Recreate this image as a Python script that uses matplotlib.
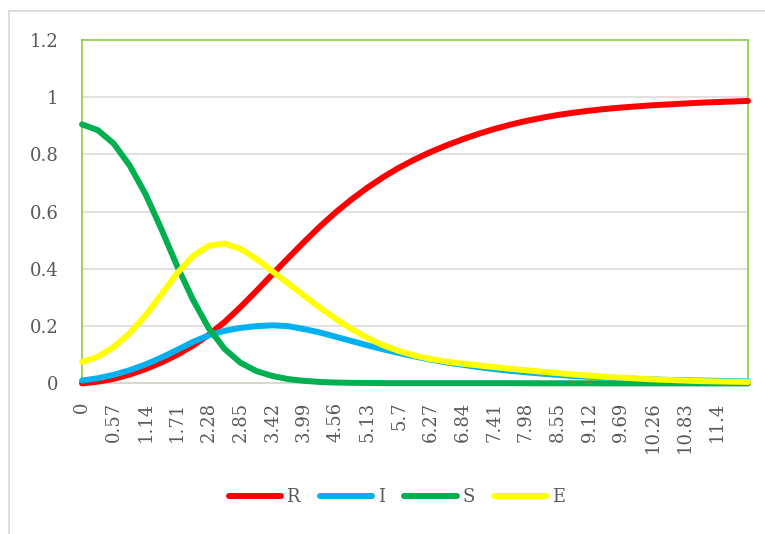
#!/usr/bin/env python3

import matplotlib
matplotlib.use("Agg")
import matplotlib.pyplot as plt
from matplotlib.lines import Line2D

# time steps (every 5th row of the sheet)
t = [0, 0.285, 0.57, 0.855, 1.14, 1.425, 1.71, 1.995, 2.28, 2.565,
     2.85, 3.135, 3.42, 3.705, 3.99, 4.275, 4.56, 4.845, 5.13, 5.415,
     5.7, 5.985, 6.27, 6.555, 6.84, 7.125, 7.41, 7.695, 7.98, 8.265,
     8.55, 8.835, 9.12, 9.405, 9.69, 9.975, 10.26, 10.545, 10.83, 11.115,
     11.4, 11.685, 11.97]

R = [0.0, 0.006, 0.016, 0.031, 0.05, 0.073, 0.1, 0.132, 0.17, 0.215,
     0.267, 0.323, 0.381, 0.438, 0.494, 0.548, 0.598, 0.643, 0.684, 0.721,
     0.754, 0.783, 0.809, 0.832, 0.853, 0.872, 0.889, 0.904, 0.917, 0.928,
     0.938, 0.946, 0.953, 0.959, 0.964, 0.968, 0.972, 0.975, 0.978, 0.981,
     0.983, 0.985, 0.987]

I = [0.01, 0.018, 0.03, 0.046, 0.066, 0.09, 0.117, 0.145, 0.168, 0.184,
     0.194, 0.2, 0.203, 0.2, 0.19, 0.178, 0.163, 0.148, 0.133, 0.119,
     0.106, 0.094, 0.083, 0.073, 0.065, 0.057, 0.05, 0.044, 0.039, 0.034,
     0.03, 0.026, 0.023, 0.02, 0.018, 0.016, 0.014, 0.012, 0.011, 0.01,
     0.009, 0.008, 0.007]

S = [0.905, 0.885, 0.838, 0.762, 0.662, 0.54, 0.41, 0.292, 0.192, 0.12,
     0.072, 0.043, 0.026, 0.015, 0.009, 0.005, 0.003, 0.002, 0.0015, 0.001,
     0.001, 0.001, 0.001, 0.001, 0.001, 0.001, 0.001, 0.001, 0.0005, 0.0005,
     0.0005, 0.0005, 0.0005, 0.0, 0.0, 0.0, 0.0, 0.0, 0.0, 0.0,
     0.0, 0.0, 0.0]

E = [0.075, 0.093, 0.127, 0.175, 0.237, 0.31, 0.385, 0.445, 0.481, 0.489,
     0.47, 0.435, 0.392, 0.35, 0.307, 0.265, 0.226, 0.19, 0.159, 0.133,
     0.113, 0.097, 0.085, 0.076, 0.069, 0.063, 0.057, 0.051, 0.046, 0.041,
     0.036, 0.031, 0.027, 0.023, 0.02, 0.017, 0.014, 0.012, 0.01, 0.008,
     0.007, 0.006, 0.005]

tick_pos = [0, 0.57, 1.14, 1.71, 2.28, 2.85, 3.42, 3.99, 4.56, 5.13,
            5.7, 6.27, 6.84, 7.41, 7.98, 8.55, 9.12, 9.69, 10.26, 10.83, 11.4]
tick_labels = ["0", "0.57", "1.14", "1.71", "2.28", "2.85", "3.42", "3.99",
               "4.56", "5.13", "5.7", "6.27", "6.84", "7.41", "7.98", "8.55",
               "9.12", "9.69", "10.26", "10.83", "11.4"]

series = [("R", R, "#FF0000"), ("I", I, "#00B0F0"),
          ("S", S, "#00B050"), ("E", E, "#FFFF00")]

plt.rcParams["font.family"] = ["DejaVu Serif"]
text_col = "#595959"

fig = plt.figure(figsize=(7.65, 5.34), dpi=100)
ax = fig.add_axes([82 / 765, 1 - 383.4 / 534, 666 / 765, 343.4 / 534])

# outer chart border (cut off at right and bottom)
fig.add_artist(Line2D([9 / 765, 1], [1 - 11 / 534] * 2, color="#D9D9D9", lw=1.2))
fig.add_artist(Line2D([9 / 765] * 2, [0, 1 - 11 / 534], color="#D9D9D9", lw=1.2))

for y in [0.2, 0.4, 0.6, 0.8, 1.0]:
    ax.axhline(y, color="#D9D9D9", lw=1.1, zorder=1)

for name, vals, col in series:
    ax.plot(t, vals, color=col, lw=4.3, solid_capstyle="round",
            solid_joinstyle="round", label=name, zorder=3, clip_on=False)

ax.set_xlim(0, 11.97)
ax.set_ylim(0, 1.2)
ax.set_yticks([0, 0.2, 0.4, 0.6, 0.8, 1.0, 1.2])
ax.set_yticklabels(["0", "0.2", "0.4", "0.6", "0.8", "1", "1.2"])
ax.set_xticks(tick_pos)
ax.set_xticklabels(tick_labels, rotation=90)
ax.tick_params(axis="both", length=0, labelsize=13, colors=text_col)
ax.tick_params(axis="y", pad=17)
ax.tick_params(axis="x", pad=13)

for side in ["left", "top", "right"]:
    ax.spines[side].set_color("#92D050")
    ax.spines[side].set_linewidth(1.3)
ax.spines["bottom"].set_color("#D0D8C8")
ax.spines["bottom"].set_linewidth(1.3)

leg = fig.legend(loc="center", bbox_to_anchor=(0.519, 1 - 497 / 534), ncol=4,
                 frameon=False, fontsize=13, handlelength=2.9,
                 handletextpad=0.3, columnspacing=1.1)
for txt in leg.get_texts():
    txt.set_color(text_col)

fig.savefig("out.png", dpi=100)
